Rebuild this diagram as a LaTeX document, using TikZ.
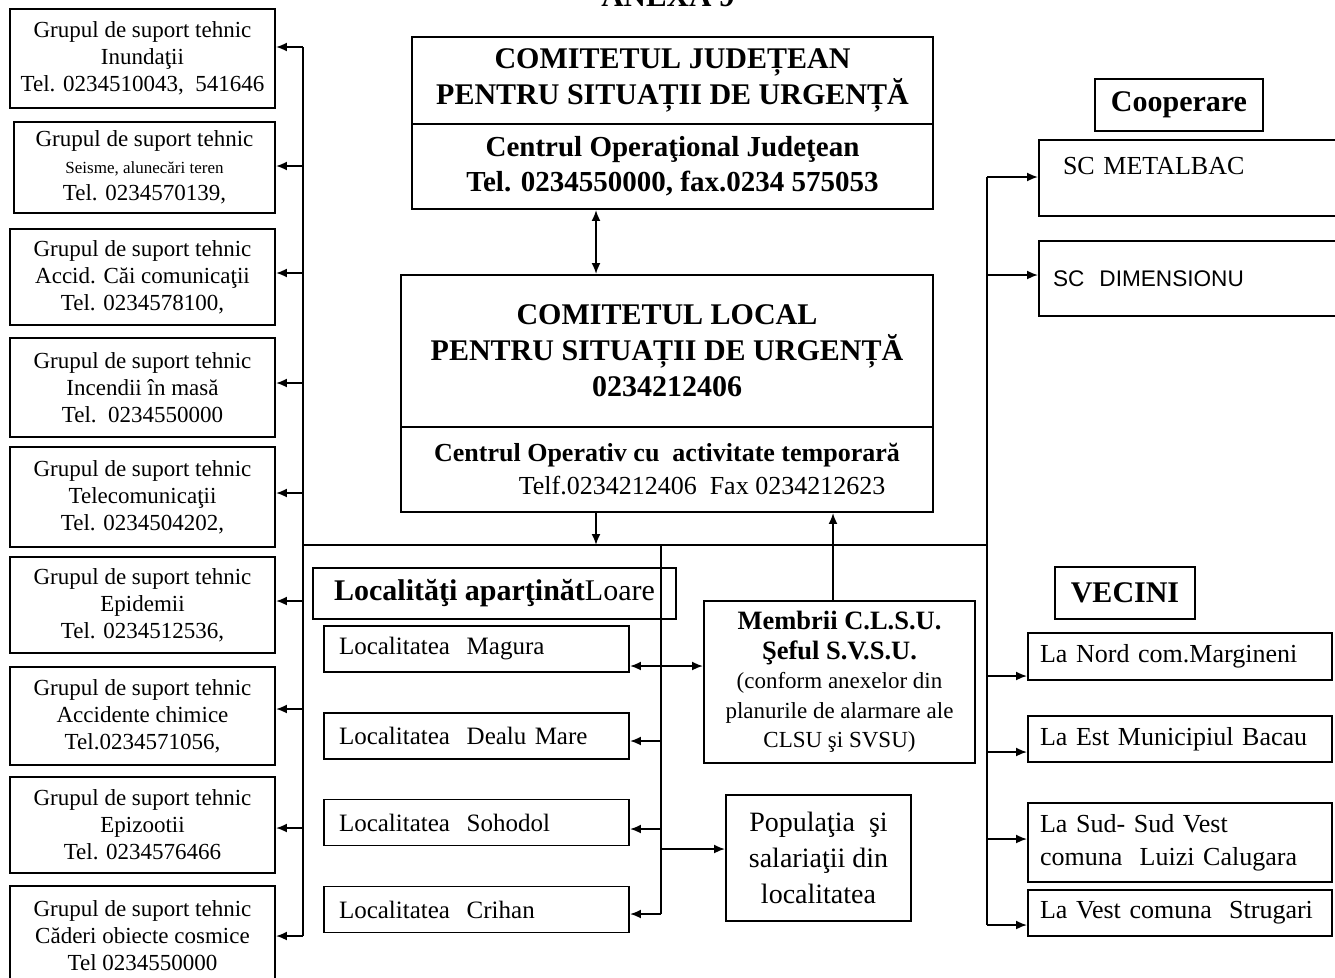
\documentclass[tikz,border=0pt]{standalone}
\usepackage{fontspec}
\setmainfont{Liberation Serif}
\setsansfont{Liberation Sans}
\usetikzlibrary{arrows.meta}

\begin{document}
\begin{tikzpicture}[x=1pt,y=-1pt,
  box/.style={draw, line width=1.9pt, inner sep=0pt, align=center},
  bus/.style={line width=1.9pt},
  arr/.style={line width=1.9pt, -{Latex[length=11pt,width=9pt]}},
  dblarr/.style={line width=1.9pt, {Latex[length=11pt,width=9pt]}-{Latex[length=11pt,width=9pt]}},
  grp/.style={box, minimum width=265, font=\fontsize{23}{27}\selectfont},
  titlu/.style={box, font=\fontsize{30}{36}\selectfont\bfseries},
  loc/.style={box, minimum width=305, minimum height=46, text width=275, inner xsep=15, align=left, font=\fontsize{25}{30}\selectfont},
  vec/.style={box, minimum width=304, text width=280, inner xsep=12, align=left, font=\fontsize{26}{33}\selectfont}]
  \useasboundingbox (0,0) rectangle (1335,977);

  \node[font=\fontsize{31}{36}\selectfont\bfseries, anchor=base] (anexa) at (668,6) {ANEXA 9};

  % grupurile de suport tehnic
  \node[grp, minimum height=99] (g1) at (142.5,58.5) {Grupul de suport tehnic\\Inundaţii\\Tel. 0234510043,\ \ 541646};
  \node[grp, minimum width=261, minimum height=91] (g2) at (144.5,167.5) {Grupul de suport tehnic\\{\fontsize{17}{22}\selectfont Seisme, alunecări teren}\\Tel. 0234570139,};
  \node[grp, minimum height=96] (g3) at (142.5,277) {Grupul de suport tehnic\\Accid. Căi comunicaţii\\Tel. 0234578100,};
  \node[grp, minimum height=99] (g4) at (142.5,387.5) {Grupul de suport tehnic\\Incendii în masă\\Tel.\ \ 0234550000};
  \node[grp, minimum height=100] (g5) at (142.5,497) {Grupul de suport tehnic\\Telecomunicaţii\\Tel. 0234504202,};
  \node[grp, minimum height=96] (g6) at (142.5,605) {Grupul de suport tehnic\\Epidemii\\Tel. 0234512536,};
  \node[grp, minimum height=98] (g7) at (142.5,716) {Grupul de suport tehnic\\Accidente chimice\\Tel.0234571056,};
  \node[grp, minimum height=96] (g8) at (142.5,825) {Grupul de suport tehnic\\Epizootii\\Tel. 0234576466};
  \node[grp, minimum height=99] (g9) at (142.5,935.5) {Grupul de suport tehnic\\Căderi obiecte cosmice\\Tel 0234550000};

  % comitetele
  \node[titlu, minimum width=521, minimum height=87] (cjtop) at (672.5,80.5) {COMITETUL JUDEȚEAN\\PENTRU SITUAȚII DE URGENȚĂ};
  \node[box, minimum width=521, minimum height=85, font=\fontsize{29}{35}\selectfont\bfseries] (cjbot) at (672.5,166.5) {Centrul Operaţional Judeţean\\Tel. 0234550000, fax.0234 575053};
  \node[titlu, minimum width=532, minimum height=152] (cltop) at (667,351) {COMITETUL LOCAL\\PENTRU SITUAȚII DE URGENȚĂ\\0234212406};
  \node[box, minimum width=532, minimum height=85, font=\fontsize{26}{33}\selectfont] (clbot) at (667,469.5) {\textbf{Centrul Operativ cu\ \ activitate temporară}\\\hspace*{70pt}Telf.0234212406\ \ Fax 0234212623};

  % localitati
  \node[box, minimum width=363, minimum height=51, font=\fontsize{30}{36}\selectfont] (lochead) at (494.5,593.5) {\textbf{Localităţi aparţinăt}Loare};
  \node[loc] (magura) at (476.5,649) {Localitatea\ \ Magura};
  \node[loc] (dealu) at (476.5,736) {Localitatea\ \ Dealu Mare};
  \node[loc] (sohodol) at (476.5,822.5) {Localitatea\ \ Sohodol};
  \node[loc] (crihan) at (476.5,909.5) {Localitatea\ \ Crihan};

  \node[box, minimum width=271, minimum height=162, font=\fontsize{23}{29.5}\selectfont] (memb) at (839.5,682) {\textbf{\fontsize{26.5}{32}\selectfont Membrii C.L.S.U.}\\\textbf{\fontsize{26.5}{32}\selectfont Şeful S.V.S.U.}\\(conform anexelor din\\planurile de alarmare ale\\CLSU şi SVSU)};
  \node[box, minimum width=185, minimum height=126, font=\fontsize{28}{36}\selectfont] (pop) at (818.5,858) {Populaţia\ \ şi\\salariaţii din\\localitatea};

  % cooperare si vecini
  \node[titlu, minimum width=168, minimum height=52] (coop) at (1179,105) {Cooperare};
  \node[box, minimum width=306, minimum height=76, text width=258, inner xsep=24, align=left, font=\fontsize{26}{24}\selectfont] (metal) at (1192,178) {SC\ METALBAC\\\mbox{}};
  \node[box, minimum width=306, minimum height=75, text width=278, inner xsep=14, align=left, font=\fontsize{22.6}{27}\selectfont\sffamily] (dimens) at (1192,278.5) {SC\ \ DIMENSIONU};
  \node[titlu, minimum width=140, minimum height=52] (vecini) at (1125,593) {VECINI};
  \node[vec, minimum height=47] (nord) at (1180,656.5) {La Nord com.Margineni};
  \node[vec, minimum height=46] (est) at (1180,739) {\mbox{La Est Municipiul Bacau}};
  \node[vec, minimum height=79] (sud) at (1180,842.5) {La Sud- Sud Vest\\comuna\ \ Luizi Calugara};
  \node[vec, minimum height=46] (vest) at (1180,913) {La Vest comuna\ \ Strugari};

  % legaturi
  \foreach \y [count=\i] in {47,166,273,383,493,601,709,828,936} {
    \coordinate (l\i) at (303,\y);
    \draw[arr] (l\i) -- (l\i -| g\i.east);
  }
  \draw[bus] (l1) -- (l9);

  \coordinate (cdown) at (596,545);
  \coordinate (cup) at (833,545);
  \foreach \n/\y in {1/177,2/275,3/676,4/752,5/839,6/925}
    \coordinate (r\n) at (987,\y);
  \draw[bus] (r1) -- (r6);
  \draw[bus] (l1 |- cdown) -- (r1 |- cdown);

  \draw[dblarr] (cjbot.south -| cdown) -- (cltop.north -| cdown);
  \draw[arr] (clbot.south -| cdown) -- (cdown);
  \draw[arr] (memb.north -| cup) -- (clbot.south -| cup);

  \coordinate (m0) at (661,545);
  \coordinate (m1) at (661,666);
  \coordinate (m2) at (661,741);
  \coordinate (m3) at (661,829);
  \coordinate (m4) at (661,914);
  \coordinate (m5) at (661,849);
  \draw[bus] (m0) -- (m4);
  \draw[dblarr] (m1 -| magura.east) -- (m1 -| memb.west);
  \draw[arr] (m2) -- (m2 -| dealu.east);
  \draw[arr] (m3) -- (m3 -| sohodol.east);
  \draw[arr] (m4) -- (m4 -| crihan.east);
  \draw[arr] (m5) -- (m5 -| pop.west);

  \draw[arr] (r1) -- (r1 -| metal.west);
  \draw[arr] (r2) -- (r2 -| dimens.west);
  \draw[arr] (r3) -- (r3 -| nord.west);
  \draw[arr] (r4) -- (r4 -| est.west);
  \draw[arr] (r5) -- (r5 -| sud.west);
  \draw[arr] (r6) -- (r6 -| vest.west);
\end{tikzpicture}
\end{document}
